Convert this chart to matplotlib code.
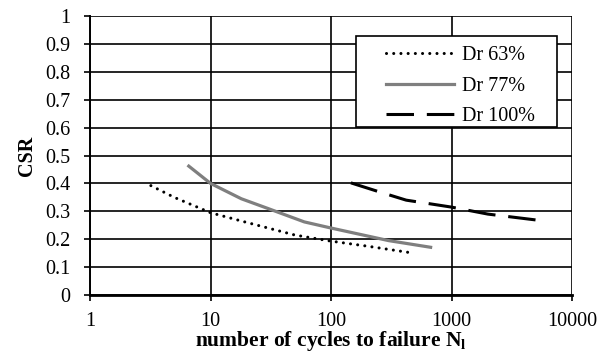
import matplotlib
import matplotlib.pyplot as plt
from matplotlib.patches import Rectangle

matplotlib.use('Agg')  # no display

plt.rcParams['font.family'] = ['Liberation Serif', 'DejaVu Serif']
plt.rcParams['mathtext.fontset'] = 'custom'
plt.rcParams['mathtext.rm'] = 'Liberation Serif'
plt.rcParams['mathtext.bf'] = 'Liberation Serif:bold'

#values (cycles, CSR)
n_63 = [3.2, 5, 10, 20, 50, 100, 200, 450]
csr_63 = [0.392, 0.35, 0.295, 0.26, 0.215, 0.193, 0.175, 0.152]

n_77 = [6.6, 10, 18, 30, 60, 100, 300, 670]
csr_77 = [0.462, 0.40, 0.345, 0.31, 0.262, 0.24, 0.195, 0.171]

n_100 = [146, 250, 420, 1000, 2000, 5000]
csr_100 = [0.402, 0.37, 0.34, 0.315, 0.29, 0.269]

x_ticks = [1, 10, 100, 1000, 10000]
x_labels = ["1", "10", "100", "1000", "10000"]
y_ticks = [0, 0.1, 0.2, 0.3, 0.4, 0.5, 0.6, 0.7, 0.8, 0.9, 1]
y_labels = ["0", "0.1", "0.2", "0.3", "0.4", "0.5", "0.6", "0.7", "0.8", "0.9", "1"]

fig = plt.figure(figsize=(6.08, 3.54), dpi=100)
ax = fig.add_axes([0.148, 0.1667, 0.793, 0.788])

ax.plot(n_63, csr_63, color="black", linestyle=(0, (0.01, 2.35)), dash_capstyle="round",
        linewidth=2.2, label="Dr 63%")
ax.plot(n_77, csr_77, color="#7f7f7f", linestyle="-", linewidth=2.3, label="Dr 77%")
ax.plot(n_100, csr_100, color="black", linestyle=(0, (9, 4.2)), linewidth=2.2, label="Dr 100%")

ax.set_xscale("log")
ax.set_xlim(1, 10000)
ax.set_ylim(0, 1)
ax.set_xticks(x_ticks)
ax.set_xticklabels(x_labels)
ax.minorticks_off()
ax.set_yticks(y_ticks)
ax.set_yticklabels(y_labels)
ax.tick_params(labelsize=14.5, length=4, width=1.2, color="black", direction="out")
ax.tick_params(axis="x", pad=8)
ax.tick_params(axis="y", pad=10)

ax.grid(visible=True, color="black", linewidth=1.2)
ax.set_axisbelow(True)
ax.spines["top"].set_visible(False)
ax.spines["right"].set_visible(False)
ax.spines["left"].set_linewidth(1.4)
ax.spines["bottom"].set_linewidth(2.0)

ax.set_xlabel(r"number of cycles to failure N$_{\mathbf{l}}$", fontsize=15.5, fontweight="bold", labelpad=-1)
ax.set_ylabel("CSR", fontsize=14.5, fontweight="bold", labelpad=6)

#legend box drawn separately so the padding matches
box = Rectangle((0.552, 0.602), 0.417, 0.328, transform=ax.transAxes, facecolor="white",
                edgecolor="black", linewidth=1.2, zorder=4)
ax.add_patch(box)
leg = ax.legend(loc="center right", bbox_to_anchor=(0.922, 0.749), fontsize=14.5,
                frameon=False, handlelength=3.4, handletextpad=0.35, labelspacing=0.55,
                borderpad=0, borderaxespad=0)
leg.set_zorder(5)

plt.savefig("out.png", dpi=100)
plt.close()
